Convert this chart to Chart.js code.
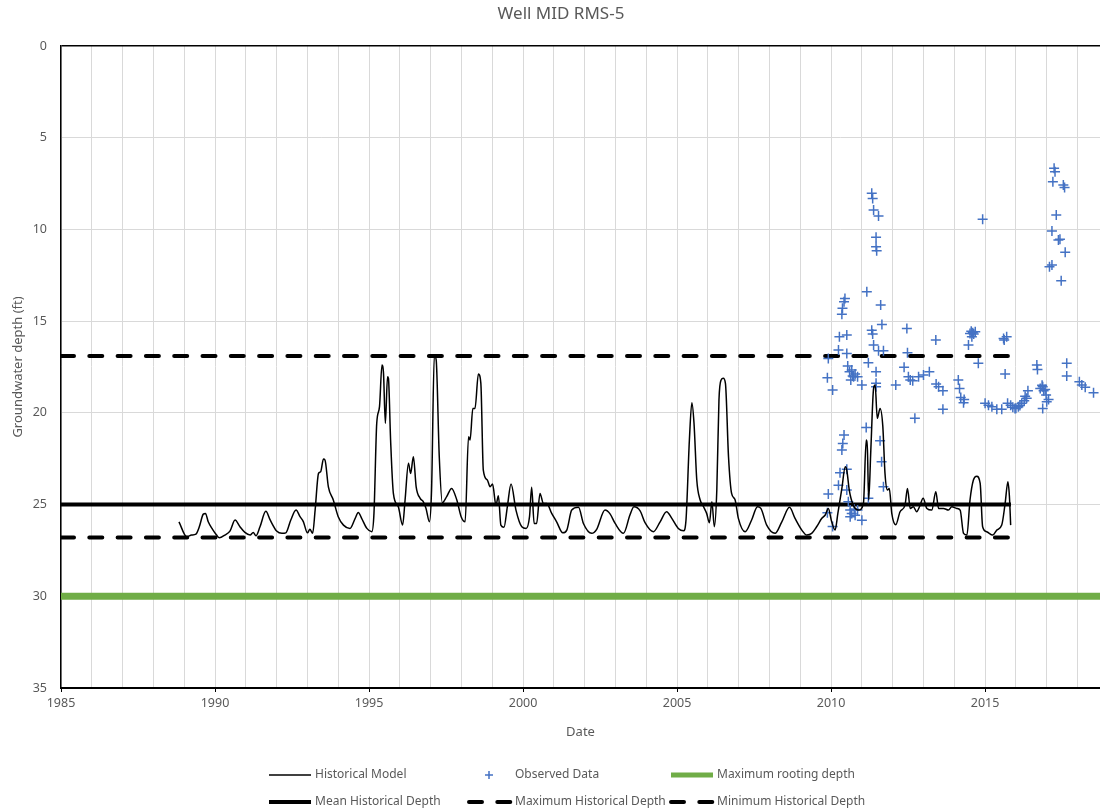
<!DOCTYPE html>
<html>
<head>
<meta charset="utf-8">
<title>Well MID RMS-5</title>
<script src="https://cdn.jsdelivr.net/npm/chart.js@4.4.1/dist/chart.umd.min.js"></script>
<style>
  html, body { margin: 0; padding: 0; background: #fff; }
  #wrap { width: 1100px; height: 812px; }
</style>
</head>
<body>
<div id="wrap"><canvas id="well_chart" width="1100" height="812"></canvas></div>
<script>
// ---------------------------- data ---------------->>
const chartTitle = 'Well MID RMS-5';
const xTitle = 'Date';
const yTitle = 'Groundwater depth (ft)';

// x axis runs from 1985 and is cut off at the right edge of the picture
const xMin = 1985;
const xMax = 2018.73;
const yMin = 0;
const yMax = 35;

// historical model (decimal year, depth in ft)
const modelYears = [
  1988.83, 1989.08, 1989.24, 1989.38, 1989.49, 1989.62, 1989.69, 1989.78, 1989.92, 1990.05,
  1990.14, 1990.32, 1990.49, 1990.65, 1990.81, 1990.97, 1991.14, 1991.24, 1991.33, 1991.46,
  1991.65, 1991.79, 1992.00, 1992.17, 1992.30, 1992.46, 1992.63, 1992.76, 1992.87, 1993.00,
  1993.08, 1993.17, 1993.25, 1993.36, 1993.43, 1993.52, 1993.57, 1993.68, 1993.84, 1994.00,
  1994.17, 1994.38, 1994.55, 1994.65, 1994.76, 1994.93, 1995.09, 1995.16, 1995.25, 1995.34,
  1995.42, 1995.47, 1995.53, 1995.60, 1995.63, 1995.70, 1995.79, 1995.95, 1996.09, 1996.17,
  1996.28, 1996.35, 1996.44, 1996.53, 1996.66, 1996.76, 1996.85, 1996.96, 1997.03, 1997.12,
  1997.18, 1997.28, 1997.38, 1997.52, 1997.68, 1997.85, 1997.99, 1998.12, 1998.23, 1998.28,
  1998.37, 1998.44, 1998.55, 1998.63, 1998.71, 1998.84, 1998.93, 1999.01, 1999.12, 1999.20,
  1999.28, 1999.38, 1999.49, 1999.61, 1999.77, 1999.96, 2000.10, 2000.21, 2000.28, 2000.36,
  2000.44, 2000.55, 2000.66, 2000.77, 2000.93, 2001.09, 2001.29, 2001.42, 2001.58, 2001.80,
  2001.96, 2002.23, 2002.39, 2002.66, 2002.83, 2002.99, 2003.26, 2003.47, 2003.60, 2003.80,
  2003.96, 2004.23, 2004.45, 2004.66, 2004.83, 2005.04, 2005.21, 2005.29, 2005.40, 2005.48,
  2005.55, 2005.64, 2005.75, 2005.86, 2005.96, 2006.05, 2006.13, 2006.21, 2006.29, 2006.36,
  2006.43, 2006.50, 2006.57, 2006.67, 2006.77, 2006.88, 2006.99, 2007.21, 2007.42, 2007.61,
  2007.72, 2007.91, 2008.18, 2008.40, 2008.65, 2008.83, 2009.05, 2009.21, 2009.37, 2009.53,
  2009.70, 2009.81, 2009.91, 2010.02, 2010.13, 2010.22, 2010.35, 2010.46, 2010.51, 2010.59,
  2010.72, 2010.89, 2011.05, 2011.14, 2011.18, 2011.22, 2011.29, 2011.38, 2011.43, 2011.50,
  2011.59, 2011.68, 2011.75, 2011.83, 2011.89, 2011.97, 2012.10, 2012.24, 2012.40, 2012.48,
  2012.57, 2012.67, 2012.78, 2012.87, 2012.99, 2013.11, 2013.27, 2013.40, 2013.49, 2013.65,
  2013.81, 2013.92, 2014.08, 2014.19, 2014.30, 2014.41, 2014.51, 2014.62, 2014.73, 2014.84,
  2014.92, 2015.05, 2015.25, 2015.38, 2015.54, 2015.65, 2015.74, 2015.79, 2015.83
];
const modelDepth = [
  25.94, 26.75, 26.66, 26.61, 26.21, 25.52, 25.48, 25.94, 26.35, 26.66,
  26.81, 26.66, 26.43, 25.84, 26.21, 26.52, 26.66, 26.52, 26.70, 26.21,
  25.37, 25.84, 26.44, 26.57, 26.54, 25.84, 25.30, 25.66, 25.94, 26.54,
  26.35, 26.57, 25.30, 23.30, 23.21, 22.52, 22.57, 24.03, 24.75, 25.66,
  26.12, 26.30, 25.75, 25.43, 25.75, 26.30, 26.48, 25.48, 20.57, 19.66,
  17.39, 17.85, 20.57, 18.03, 18.12, 21.48, 24.39, 25.12, 26.12, 24.75,
  22.75, 23.30, 22.39, 24.03, 24.66, 24.84, 25.21, 25.94, 24.21, 16.85,
  17.12, 22.39, 24.90, 24.57, 24.12, 24.75, 25.66, 25.94, 21.30, 21.48,
  19.76, 19.76, 17.88, 18.39, 23.12, 23.66, 24.03, 23.88, 25.03, 24.52,
  26.12, 26.24, 25.12, 23.88, 25.30, 26.21, 26.30, 25.66, 24.06, 26.03,
  26.03, 24.39, 24.94, 24.94, 25.48, 25.94, 26.54, 26.39, 25.30, 25.15,
  26.03, 26.57, 26.35, 25.30, 25.52, 26.03, 26.57, 25.57, 25.12, 25.34,
  25.99, 26.48, 25.94, 25.39, 25.75, 26.30, 26.43, 25.84, 21.48, 19.45,
  20.57, 23.66, 24.75, 25.12, 25.48, 25.99, 24.85, 26.21, 24.21, 19.30,
  18.21, 18.12, 18.39, 22.39, 24.39, 24.72, 25.75, 26.48, 25.84, 25.12,
  25.21, 26.12, 26.57, 25.94, 25.15, 25.75, 26.39, 26.66, 26.57, 26.21,
  25.75, 25.57, 25.21, 25.94, 26.39, 25.48, 24.12, 22.94, 23.12, 24.21,
  25.03, 25.30, 24.94, 21.48, 22.03, 24.75, 22.03, 18.66, 18.48, 20.30,
  19.76, 20.75, 23.30, 24.21, 24.12, 25.48, 26.10, 25.39, 25.03, 24.12,
  25.21, 25.12, 25.39, 25.12, 24.66, 25.21, 25.30, 24.30, 25.21, 25.21,
  25.30, 25.12, 25.21, 25.30, 26.57, 26.66, 24.75, 23.66, 23.45, 23.85,
  26.21, 26.48, 26.66, 26.39, 26.12, 24.94, 23.76, 24.57, 26.12
];

// observed data (decimal year, depth in ft)
const obsYears = [
  2009.88, 2009.88, 2009.91, 2009.91, 2010.05, 2010.05, 2010.24, 2010.24, 2010.27, 2010.29,
  2010.35, 2010.35, 2010.37, 2010.38, 2010.42, 2010.42, 2010.45, 2010.51, 2010.51, 2010.51,
  2010.51, 2010.54, 2010.56, 2010.60, 2010.62, 2010.62, 2010.64, 2010.67, 2010.67, 2010.70,
  2010.73, 2010.75, 2010.78, 2010.78, 2010.86, 2010.86, 2011.00, 2011.00, 2011.14, 2011.16,
  2011.21, 2011.21, 2011.32, 2011.32, 2011.35, 2011.35, 2011.38, 2011.38, 2011.46, 2011.46,
  2011.46, 2011.46, 2011.46, 2011.48, 2011.54, 2011.54, 2011.59, 2011.61, 2011.64, 2011.65,
  2011.70, 2011.70, 2012.10, 2012.37, 2012.46, 2012.48, 2012.51, 2012.57, 2012.65, 2012.72,
  2012.84, 2013.00, 2013.19, 2013.40, 2013.41, 2013.49, 2013.63, 2013.63, 2014.13, 2014.17,
  2014.21, 2014.30, 2014.32, 2014.46, 2014.51, 2014.55, 2014.57, 2014.60, 2014.63, 2014.68,
  2014.78, 2014.92, 2015.00, 2015.11, 2015.22, 2015.38, 2015.54, 2015.60, 2015.62, 2015.65,
  2015.70, 2015.73, 2015.83, 2015.90, 2015.97, 2016.00, 2016.08, 2016.13, 2016.19, 2016.27,
  2016.30, 2016.35, 2016.39, 2016.68, 2016.70, 2016.79, 2016.85, 2016.87, 2016.87, 2016.90,
  2016.95, 2016.98, 2017.00, 2017.06, 2017.09, 2017.17, 2017.17, 2017.20, 2017.24, 2017.27,
  2017.31, 2017.38, 2017.43, 2017.47, 2017.54, 2017.58, 2017.60, 2017.65, 2017.65, 2018.06,
  2018.14, 2018.25, 2018.52
];
const obsDepth = [
  18.08, 25.45, 17.03, 24.43, 18.76, 26.20, 16.58, 23.94, 15.85, 23.26,
  14.63, 22.03, 14.30, 21.67, 13.94, 21.21, 13.76, 15.76, 16.76, 23.08,
  24.21, 17.45, 24.85, 17.76, 25.30, 25.67, 18.21, 17.67, 25.48, 17.99,
  18.03, 25.26, 17.88, 25.58, 18.03, 25.30, 18.48, 25.85, 20.80, 13.40,
  17.27, 24.66, 8.03, 15.49, 8.31, 15.70, 8.94, 16.30, 10.43, 10.94,
  17.76, 18.39, 18.58, 11.16, 9.27, 16.61, 21.52, 14.12, 22.67, 15.18,
  16.61, 24.03, 18.48, 17.52, 15.40, 16.72, 18.03, 18.21, 18.25, 20.30,
  18.03, 17.94, 17.76, 16.03, 18.43, 18.58, 18.79, 19.81, 18.21, 18.67,
  19.16, 19.45, 19.27, 16.30, 15.67, 15.55, 15.85, 15.63, 15.70, 15.58,
  17.30, 9.45, 19.48, 19.58, 19.67, 19.81, 19.81, 15.95, 16.03, 17.88,
  15.85, 19.48, 19.58, 19.70, 19.76, 19.75, 19.67, 19.60, 19.48, 19.34,
  19.10, 19.21, 18.79, 17.39, 17.63, 18.67, 18.50, 18.58, 19.76, 18.80,
  18.72, 19.03, 19.39, 19.27, 12.03, 10.09, 11.94, 7.40, 6.67, 6.85,
  9.22, 10.58, 10.54, 12.80, 7.58, 7.71, 11.25, 17.30, 17.99, 18.30,
  18.48, 18.61, 18.90
];

// reference levels
const rootingDepth = 30;
const meanHistDepth = 25.0;
const maxHistDepth = 26.8;
const minHistDepth = 16.9;
const histStart = 1985;
const histEnd = 2015.84;

// ------------------------------ helpers -------------------------------->>
function toPoints(xs, ys) {
  return xs.map((x, i) => ({ x: x, y: ys[i] }));
}
function level(x0, x1, depth) {
  return [{ x: x0, y: depth }, { x: x1, y: depth }];
}

const textGrey = '#595959';
const gridGrey = '#d9d9d9';
const fontFamily = '"Noto Sans", "Open Sans", sans-serif';
Chart.defaults.font.family = fontFamily;
Chart.defaults.color = textGrey;

// legend slots, two rows of three like the original
const legendSlots = [
  { x: 267, y: 775 }, { x: 467, y: 775 }, { x: 669, y: 775 },
  { x: 267, y: 802 }, { x: 467, y: 802 }, { x: 669, y: 802 }
];

const decorations = {
  id: 'decorations',
  afterDraw(chart) {
    const c = chart.ctx;
    c.save();
    c.fillStyle = textGrey;
    c.textBaseline = 'middle';
    // title
    c.font = '17px ' + fontFamily;
    c.textAlign = 'center';
    c.fillText(chartTitle, 561, 14);
    // legend
    c.font = '12px ' + fontFamily;
    c.textAlign = 'left';
    chart.data.datasets.forEach((ds, i) => {
      const s = legendSlots[i];
      c.strokeStyle = ds.borderColor;
      if (ds.pointStyle === 'cross') {
        const cx = s.x + 22;
        c.lineWidth = 1.5;
        c.setLineDash([]);
        c.beginPath();
        c.moveTo(cx - 4, s.y); c.lineTo(cx + 4, s.y);
        c.moveTo(cx, s.y - 4); c.lineTo(cx, s.y + 4);
        c.stroke();
      } else {
        c.lineWidth = Math.min(ds.borderWidth, 5);
        c.setLineDash(ds.borderDash || []);
        c.lineCap = ds.borderCapStyle || 'butt';
        c.beginPath();
        c.moveTo(s.x + 2, s.y); c.lineTo(s.x + 44, s.y);
        c.stroke();
        c.lineCap = 'butt';
      }
      c.setLineDash([]);
      c.fillText(ds.label, s.x + 48, s.y);
    });
    c.restore();
  }
};

// --------------------------------- chart -------------------------------->>
const ctx = document.getElementById('well_chart').getContext('2d');
const wellChart = new Chart(ctx, {
  type: 'scatter',
  data: {
    datasets: [
      {
        label: 'Historical Model',
        data: toPoints(modelYears, modelDepth),
        showLine: true,
        borderColor: '#000000',
        borderWidth: 1.5,
        pointRadius: 0,
        cubicInterpolationMode: 'monotone'
      },
      {
        label: 'Observed Data',
        data: toPoints(obsYears, obsDepth),
        pointStyle: 'cross',
        pointRadius: 5,
        pointBorderWidth: 1.5,
        borderColor: '#4472C4',
        backgroundColor: '#4472C4'
      },
      {
        label: 'Maximum rooting depth',
        data: level(xMin, xMax, rootingDepth),
        showLine: true,
        borderColor: '#70AD47',
        borderWidth: 7,
        pointRadius: 0
      },
      {
        label: 'Mean Historical Depth',
        data: level(histStart, histEnd, meanHistDepth),
        showLine: true,
        borderColor: '#000000',
        borderWidth: 4,
        pointRadius: 0
      },
      {
        label: 'Maximum Historical Depth',
        data: level(histStart, histEnd, maxHistDepth),
        showLine: true,
        borderColor: '#000000',
        borderWidth: 4,
        borderDash: [13, 15.3],
        borderCapStyle: 'round',
        pointRadius: 0
      },
      {
        label: 'Minimum Historical Depth',
        data: level(histStart, histEnd, minHistDepth),
        showLine: true,
        borderColor: '#000000',
        borderWidth: 4,
        borderDash: [13, 15.3],
        borderCapStyle: 'round',
        pointRadius: 0
      }
    ]
  },
  options: {
    responsive: false,
    animation: false,
    events: [],
    layout: {
      autoPadding: false,
      padding: { top: 46, bottom: 70, left: 0, right: 0 }
    },
    plugins: {
      legend: { display: false },
      title: { display: false },
      tooltip: { enabled: false }
    },
    scales: {
      x: {
        type: 'linear',
        min: xMin,
        max: xMax,
        afterFit(scale) {
          scale.height = 54;
          scale.paddingLeft = 0;
          scale.paddingRight = 0;
        },
        ticks: {
          stepSize: 1,
          includeBounds: false,
          autoSkip: false,
          maxRotation: 0,
          padding: 4,
          font: { size: 12.5 },
          callback: v => (v % 5 === 0 ? String(v) : '')
        },
        grid: {
          color: gridGrey,
          lineWidth: 1,
          drawTicks: true,
          tickLength: 4,
          tickColor: c => (c.tick && c.tick.value % 5 === 0 ? '#000000' : 'rgba(0,0,0,0)')
        },
        border: { color: '#000000', width: 2 },
        title: {
          display: true,
          text: xTitle,
          font: { size: 13 },
          padding: { top: 0, bottom: 2 }
        }
      },
      y: {
        reverse: true,
        min: yMin,
        max: yMax,
        afterFit(scale) { scale.width = 61; },
        ticks: {
          stepSize: 5,
          padding: 14,
          font: { size: 12.5 }
        },
        grid: {
          drawTicks: false,
          color: c => (c.tick && c.tick.value === 0 ? '#000000' : gridGrey),
          lineWidth: c => (c.tick && c.tick.value === 0 ? 1.5 : 1)
        },
        border: { color: '#000000', width: 1.5 },
        title: {
          display: true,
          text: yTitle,
          font: { size: 13 },
          padding: { top: 10, bottom: 0 }
        }
      }
    }
  },
  plugins: [decorations]
});
</script>
</body>
</html>
